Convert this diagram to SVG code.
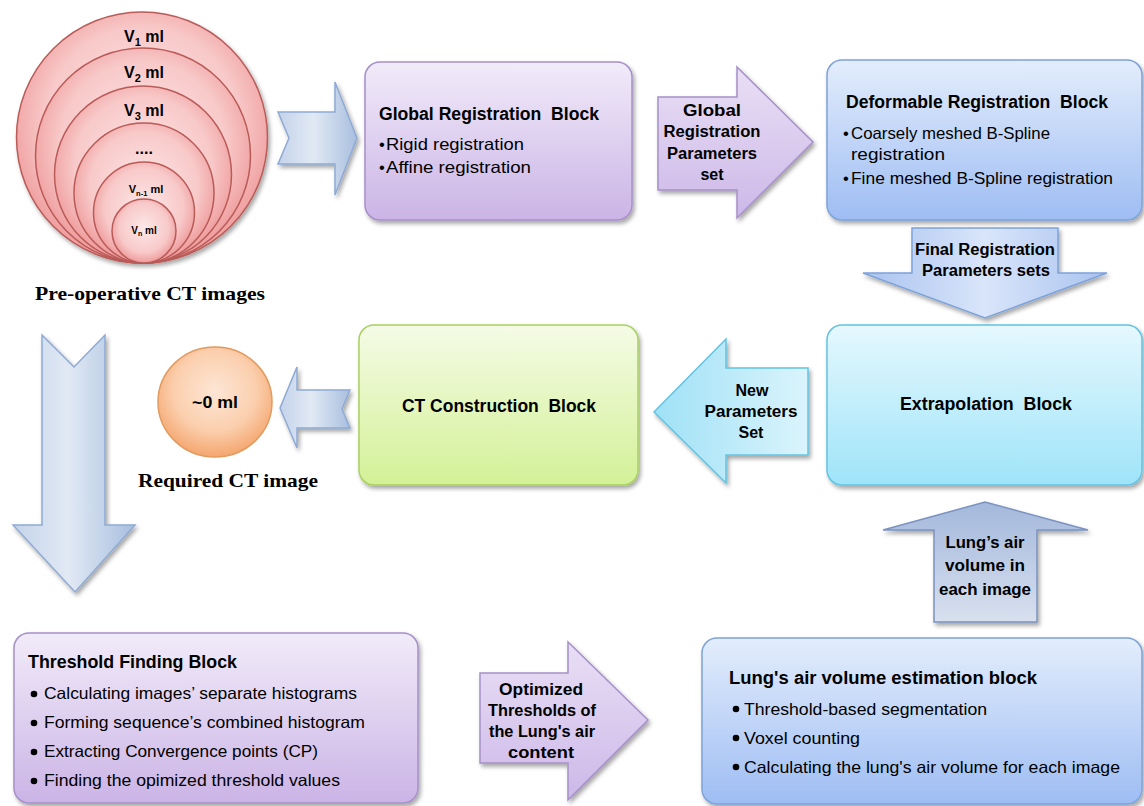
<svg xmlns="http://www.w3.org/2000/svg" width="1144" height="806" viewBox="0 0 1144 806">
<defs>
<filter id="sh" x="-10%" y="-10%" width="125%" height="130%">
<feDropShadow dx="2" dy="3" stdDeviation="2" flood-color="#000" flood-opacity="0.35"/>
</filter>
<radialGradient id="gPink" cx="50%" cy="45%" r="55%">
<stop offset="0" stop-color="#fde8e8"/>
<stop offset="0.7" stop-color="#f8c9c9"/>
<stop offset="1" stop-color="#ef9b9b"/>
</radialGradient>
<radialGradient id="gOrange" cx="50%" cy="40%" r="60%">
<stop offset="0" stop-color="#fde6d5"/>
<stop offset="0.6" stop-color="#fbcfae"/>
<stop offset="1" stop-color="#f4a66e"/>
</radialGradient>
<linearGradient id="gPurple" x1="0" y1="0" x2="0" y2="1">
<stop offset="0" stop-color="#f1ebf9"/>
<stop offset="1" stop-color="#cbb4e6"/>
</linearGradient>
<linearGradient id="gPurpleArr" x1="0" y1="0" x2="0" y2="1">
<stop offset="0" stop-color="#e9dff5"/>
<stop offset="1" stop-color="#cdb8e8"/>
</linearGradient>
<linearGradient id="gBlueBox" x1="0" y1="0" x2="0" y2="1">
<stop offset="0" stop-color="#e3edfc"/>
<stop offset="1" stop-color="#9ebdf3"/>
</linearGradient>
<linearGradient id="gCyan" x1="0" y1="0" x2="0" y2="1">
<stop offset="0" stop-color="#e5f8fe"/>
<stop offset="1" stop-color="#9fe4f9"/>
</linearGradient>
<linearGradient id="gGreen" x1="0" y1="0" x2="0" y2="1">
<stop offset="0" stop-color="#f5fbe6"/>
<stop offset="1" stop-color="#d3f197"/>
</linearGradient>
<linearGradient id="gChevH" x1="0" y1="0" x2="1" y2="0">
<stop offset="0" stop-color="#c4d3ea"/>
<stop offset="0.45" stop-color="#e1e9f4"/>
<stop offset="1" stop-color="#a8bfdf"/>
</linearGradient>
<linearGradient id="gFinal" x1="0" y1="0" x2="1" y2="0">
<stop offset="0" stop-color="#a9c3ef"/>
<stop offset="0.5" stop-color="#d9e5fa"/>
<stop offset="1" stop-color="#a9c3ef"/>
</linearGradient>
<linearGradient id="gNew" x1="0" y1="0" x2="1" y2="0">
<stop offset="0" stop-color="#9fe1f6"/>
<stop offset="1" stop-color="#dbf4fc"/>
</linearGradient>
<linearGradient id="gUp" x1="0" y1="0" x2="0" y2="1">
<stop offset="0" stop-color="#a3b8dc"/>
<stop offset="1" stop-color="#d8e0ee"/>
</linearGradient>
</defs>
<style>
.t{font-family:"Liberation Sans",Arial,sans-serif;fill:#000}
.b{font-weight:bold}
.ttl{font-size:17.5px;font-weight:bold}
.bul{font-size:16.5px}
.lbl{font-size:16px;font-weight:bold;text-anchor:middle}
.ser{font-family:"Liberation Serif","Times New Roman",serif;font-weight:bold;font-size:19px;text-anchor:middle;fill:#000}
.pk{fill:url(#gPink);stroke:#b95b58;stroke-width:1.5}
.box{stroke-width:1.5}
.arr{stroke-width:1.5}
</style>
<rect width="1144" height="806" fill="#ffffff"/>

<g id="preop-ct-images">
<circle cx="142" cy="137.5" r="125.5" class="pk" filter="url(#sh)"/>
<circle cx="143" cy="155.5" r="107.5" class="pk"/>
<circle cx="143" cy="174.5" r="88.5" class="pk"/>
<circle cx="144" cy="193" r="70" class="pk"/>
<circle cx="144" cy="212.5" r="50.5" class="pk"/>
<circle cx="144" cy="231" r="32" class="pk"/>
<text class="t b" x="144" y="42" font-size="16" text-anchor="middle">V<tspan font-size="11" dy="4">1</tspan><tspan dy="-4"> ml</tspan></text>
<text class="t b" x="144" y="78" font-size="16" text-anchor="middle">V<tspan font-size="11" dy="4">2</tspan><tspan dy="-4"> ml</tspan></text>
<text class="t b" x="144" y="116" font-size="16" text-anchor="middle">V<tspan font-size="11" dy="4">3</tspan><tspan dy="-4"> ml</tspan></text>
<text class="t b" x="144" y="154" font-size="16" text-anchor="middle">....</text>
<text class="t b" x="146" y="193" font-size="11" text-anchor="middle">V<tspan font-size="7.5" dy="3">n-1</tspan><tspan dy="-3"> ml</tspan></text>
<text class="t b" x="144" y="234" font-size="10" text-anchor="middle">V<tspan font-size="7" dy="2">n</tspan><tspan dy="-2"> ml</tspan></text>
<text class="ser" x="150" y="300" textLength="230" lengthAdjust="spacingAndGlyphs">Pre-operative CT images</text>
</g>

<g id="global-registration-block">
<rect x="365" y="62" width="267" height="158" rx="15" fill="url(#gPurple)" stroke="#a690c8" class="box" filter="url(#sh)"/>
<text class="t ttl" x="379" y="120" textLength="220" lengthAdjust="spacingAndGlyphs">Global Registration&#160; Block</text>
<text class="t bul" x="379" y="150">•<tspan x="386" textLength="138" lengthAdjust="spacingAndGlyphs">Rigid registration</tspan></text>
<text class="t bul" x="379" y="173">•<tspan x="386" textLength="145" lengthAdjust="spacingAndGlyphs">Affine registration</tspan></text>
</g>

<g id="deformable-registration-block">
<rect x="827" y="60" width="315" height="160" rx="15" fill="url(#gBlueBox)" stroke="#7ea3d9" class="box" filter="url(#sh)"/>
<text class="t ttl" x="846" y="108" textLength="262" lengthAdjust="spacingAndGlyphs">Deformable Registration&#160; Block</text>
<text class="t bul" x="843" y="139">•<tspan x="851" textLength="199" lengthAdjust="spacingAndGlyphs">Coarsely meshed B-Spline</tspan></text>
<text class="t bul" x="851" y="160" textLength="94" lengthAdjust="spacingAndGlyphs">registration</text>
<text class="t bul" x="843" y="184">•<tspan x="851" textLength="262" lengthAdjust="spacingAndGlyphs">Fine meshed B-Spline registration</tspan></text>
</g>

<g id="extrapolation-block">
<rect x="827" y="325" width="315" height="160" rx="15" fill="url(#gCyan)" stroke="#62c3e2" class="box" filter="url(#sh)"/>
<text class="t ttl" x="986" y="410" text-anchor="middle" textLength="172" lengthAdjust="spacingAndGlyphs">Extrapolation&#160; Block</text>
</g>

<g id="ct-construction-block">
<rect x="359" y="325" width="279" height="160" rx="15" fill="url(#gGreen)" stroke="#a9d160" class="box" filter="url(#sh)"/>
<text class="t ttl" x="499" y="412" text-anchor="middle" textLength="194" lengthAdjust="spacingAndGlyphs">CT Construction&#160; Block</text>
</g>

<g id="required-ct-image">
<ellipse cx="215" cy="402" rx="57" ry="55" fill="url(#gOrange)" stroke="#e39a5e" stroke-width="1.5"/>
<text class="t b" x="215" y="408" font-size="16" text-anchor="middle" textLength="46" lengthAdjust="spacingAndGlyphs">~0 ml</text>
<text class="ser" x="228" y="487" textLength="180" lengthAdjust="spacingAndGlyphs">Required CT image</text>
</g>

<g id="threshold-finding-block">
<rect x="14" y="633" width="404" height="170" rx="15" fill="url(#gPurple)" stroke="#a690c8" class="box" filter="url(#sh)"/>
<text class="t ttl" x="28" y="668" textLength="209" lengthAdjust="spacingAndGlyphs">Threshold Finding Block</text>
<circle cx="34" cy="694" r="3.3" fill="#000"/>
<text class="t bul" x="44" y="699" textLength="313" lengthAdjust="spacingAndGlyphs">Calculating images’ separate histograms</text>
<circle cx="34" cy="723" r="3.3" fill="#000"/>
<text class="t bul" x="44" y="728" textLength="321" lengthAdjust="spacingAndGlyphs">Forming sequence’s combined histogram</text>
<circle cx="34" cy="752" r="3.3" fill="#000"/>
<text class="t bul" x="44" y="757" textLength="274" lengthAdjust="spacingAndGlyphs">Extracting Convergence points (CP)</text>
<circle cx="34" cy="781" r="3.3" fill="#000"/>
<text class="t bul" x="44" y="786" textLength="296" lengthAdjust="spacingAndGlyphs">Finding the opimized threshold values</text>
</g>

<g id="lung-air-volume-estimation-block">
<rect x="702" y="638" width="440" height="166" rx="15" fill="url(#gBlueBox)" stroke="#7ea3d9" class="box" filter="url(#sh)"/>
<text class="t ttl" x="729" y="684" textLength="308" lengthAdjust="spacingAndGlyphs">Lung's air volume estimation block</text>
<circle cx="736" cy="709" r="3.3" fill="#000"/>
<text class="t bul" x="744" y="715" textLength="243" lengthAdjust="spacingAndGlyphs">Threshold-based segmentation</text>
<circle cx="736" cy="738" r="3.3" fill="#000"/>
<text class="t bul" x="744" y="744" textLength="116" lengthAdjust="spacingAndGlyphs">Voxel counting</text>
<circle cx="736" cy="767" r="3.3" fill="#000"/>
<text class="t bul" x="744" y="773" textLength="376" lengthAdjust="spacingAndGlyphs">Calculating the lung's air volume for each image</text>
</g>

<g id="connectors">
<polygon points="278,112 335,112 335,82 357,138 335,195 335,164 278,164 289,138" fill="url(#gChevH)" stroke="#8eaad3" class="arr" filter="url(#sh)"/>

<polygon points="658,97 737,97 737,67 813,142 737,218 737,190 658,190" fill="url(#gPurpleArr)" stroke="#a690c8" class="arr" filter="url(#sh)"/>
<text class="t lbl" x="712" y="116" textLength="58" lengthAdjust="spacingAndGlyphs">Global</text>
<text class="t lbl" x="712" y="137" textLength="97" lengthAdjust="spacingAndGlyphs">Registration</text>
<text class="t lbl" x="712" y="159" textLength="90" lengthAdjust="spacingAndGlyphs">Parameters</text>
<text class="t lbl" x="712" y="180">set</text>

<polygon points="912,228 1058,228 1058,273 1107,273 985,318 863,273 912,273" fill="url(#gFinal)" stroke="#7ea3d9" class="arr" filter="url(#sh)"/>
<text class="t lbl" x="985" y="255" textLength="140" lengthAdjust="spacingAndGlyphs">Final Registration</text>
<text class="t lbl" x="986" y="276" textLength="128" lengthAdjust="spacingAndGlyphs">Parameters sets</text>

<polygon points="808,368 726,368 726,339 654,412 726,483 726,455 808,455" fill="url(#gNew)" stroke="#62c3e2" class="arr" filter="url(#sh)"/>
<text class="t lbl" x="752" y="396">New</text>
<text class="t lbl" x="751" y="417" textLength="93" lengthAdjust="spacingAndGlyphs">Parameters</text>
<text class="t lbl" x="751" y="438">Set</text>

<polygon points="350,390 297,390 297,367 280,408 297,448 297,428 350,428 342,409" fill="url(#gChevH)" stroke="#8eaad3" class="arr" filter="url(#sh)"/>

<polygon points="42,335 74,367 105,335 105,525 135,525 75,592 13,525 42,525" fill="url(#gChevH)" stroke="#8eaad3" class="arr" filter="url(#sh)"/>

<polygon points="934,622 934,530 883,530 985,502 1088,530 1037,530 1037,622" fill="url(#gUp)" stroke="#7b93c0" class="arr" filter="url(#sh)"/>
<text class="t lbl" x="985" y="548" font-size="17" textLength="79" lengthAdjust="spacingAndGlyphs">Lung’s air</text>
<text class="t lbl" x="985" y="571" font-size="17" textLength="80" lengthAdjust="spacingAndGlyphs">volume in</text>
<text class="t lbl" x="985" y="595" font-size="17" textLength="92" lengthAdjust="spacingAndGlyphs">each image</text>

<polygon points="480,673 568,673 568,642 648,720 568,800 568,763 480,763" fill="url(#gPurpleArr)" stroke="#a690c8" class="arr" filter="url(#sh)"/>
<text class="t lbl" x="541" y="695" font-size="17" textLength="84" lengthAdjust="spacingAndGlyphs">Optimized</text>
<text class="t lbl" x="542" y="716" font-size="17" textLength="108" lengthAdjust="spacingAndGlyphs">Thresholds of</text>
<text class="t lbl" x="542" y="737" font-size="17" textLength="106" lengthAdjust="spacingAndGlyphs">the Lung's air</text>
<text class="t lbl" x="541" y="758" font-size="17" textLength="66" lengthAdjust="spacingAndGlyphs">content</text>
</g>
</svg>
